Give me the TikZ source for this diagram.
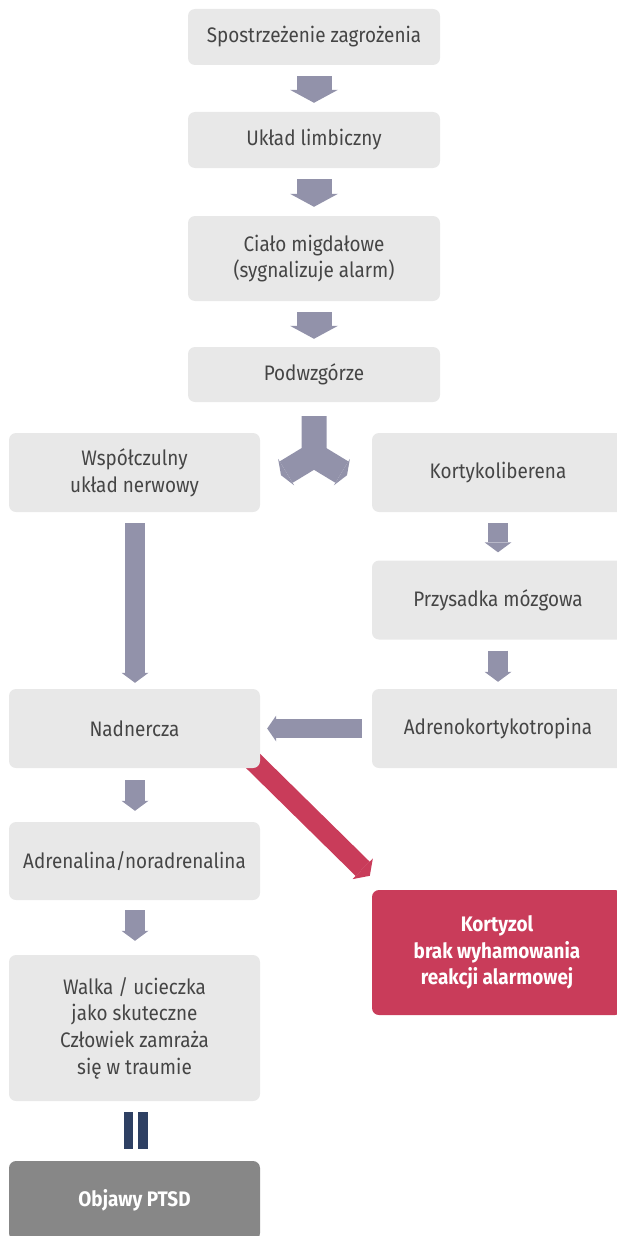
\documentclass[tikz,border=0pt]{standalone}
\usepackage{fontspec}
\setmainfont{Fira Sans}[FakeStretch=0.9]
\usetikzlibrary{arrows.meta,backgrounds,calc}
\definecolor{boxgray}{HTML}{E8E8E8}
\definecolor{txtgray}{HTML}{454545}
\definecolor{arrgray}{HTML}{9292AA}
\definecolor{alarmred}{HTML}{C93C5A}
\definecolor{ptsdgray}{HTML}{878787}
\definecolor{navy}{HTML}{2E4063}
\tikzset{
  box/.style={draw=none, fill=boxgray, rounded corners=7pt, text=txtgray,
    align=center, font=\fontsize{21}{26.7}\selectfont, inner sep=0pt},
  redbox/.style={box, fill=alarmred, text=white, font=\fontsize{21}{26.5}\selectfont\bfseries},
  greybox/.style={box, fill=ptsdgray, text=white, font=\fontsize{21}{26.5}\selectfont\bfseries},
  bigarr/.style={draw=arrgray, line width=35pt,
    -{Triangle[width=48pt,length=13pt,line width=0pt]}},
  midarr/.style={draw=arrgray, line width=20pt,
    -{Triangle[width=27pt,length=10pt,line width=0pt]}},
  splitarr/.style={draw=arrgray, line width=25pt, line join=miter,
    -{Triangle[width=31pt,length=6pt,line width=0pt]}},
  redarr/.style={draw=alarmred, line width=20pt,
    -{Triangle[width=29pt,length=10pt,line width=0pt]}},
  bar/.style={draw=navy, line width=9.5pt},
}
\begin{document}
\begin{tikzpicture}[x=1pt,y=-1pt]
\useasboundingbox (0,0) rectangle (617,1236);
\clip (0,0) rectangle (617,1236);
% central column
\node[box, minimum width=252pt, minimum height=56pt] (b1) at (314,37) {Spostrzeżenie zagrożenia};
\node[box, minimum width=252pt, minimum height=56pt] (b2) at (314,140) {Układ limbiczny};
\node[box, minimum width=252pt, minimum height=85pt] (b3) at (314,258.5) {Ciało migdałowe\\(sygnalizuje alarm)};
\node[box, minimum width=252pt, minimum height=55pt] (b4) at (314,374.5) {Podwzgórze};
% left column
\node[box, minimum width=251pt, minimum height=79pt] (wsp) at (134.5,472.5) {Współczulny\\układ nerwowy};
\node[box, minimum width=251pt, minimum height=79pt] (nad) at (134.5,728.5) {Nadnercza};
\node[box, minimum width=251pt, minimum height=78pt] (adrn) at (134.5,861) {Adrenalina/noradrenalina};
\node[box, minimum width=251pt, minimum height=146pt] (walka) at (134.5,1028) {Walka / ucieczka\\jako skuteczne\\Człowiek zamraża\\się w traumie};
\node[greybox, minimum width=251pt, minimum height=79pt] (ptsd) at (134.5,1200.5) {Objawy PTSD};
% right column
\node[box, minimum width=252pt, minimum height=79pt] (kort) at (498,472.5) {Kortykoliberena};
\node[box, minimum width=252pt, minimum height=79pt] (prz) at (498,600) {Przysadka mózgowa};
\node[box, minimum width=252pt, minimum height=79pt] (adr) at (498,728.5) {Adrenokortykotropina};
\node[redbox, minimum width=250pt, minimum height=125pt] (kz) at (497,952.5) {Kortyzol\\brak wyhamowania\\reakcji alarmowej};
% connectors
\begin{scope}[on background layer]
\draw[bigarr] ($(b1.south)+(0,11)$) -- ($(b2.north)+(0,-9)$);
\draw[bigarr] ($(b2.south)+(0,11)$) -- ($(b3.north)+(0,-9)$);
\draw[bigarr] ($(b3.south)+(0,11)$) -- ($(b4.north)+(0,-8)$);
\coordinate (split) at ($(b4.south)+(0,53)$);
\draw[splitarr] ($(b4.south)+(0,14)$) -- (split) -- ($(split)+(-33,20)$);
\draw[splitarr] (split) -- ($(split)+(33,20)$);
\draw[midarr] ($(wsp.south)+(0.5,11)$) -- ($(nad.north)+(0.5,-6)$);
\draw[midarr] ($(kort.south)+(0,11)$) -- ($(prz.north)+(0,-8)$);
\draw[midarr] ($(prz.south)+(0,11)$) -- ($(adr.north)+(0,-7)$);
\draw[draw=arrgray, line width=19pt, -{Triangle[width=26pt,length=9pt,line width=0pt]}]
  ($(adr.west)+(-10,0)$) -- ($(nad.east)+(7,0)$);
\draw[midarr] ($(nad.south)+(0.5,12)$) -- ($(adrn.north)+(0.5,-11)$);
\draw[midarr] ($(adrn.south)+(0.5,10)$) -- ($(walka.north)+(0.5,-14)$);
\draw[redarr] ($(nad.south east)+(-14,-14)$) -- ($(kz.north west)+(-2,-14)$);
\draw[bar] ($(walka.south)+(-6,11)$) -- ($(ptsd.north)+(-6,-12)$);
\draw[bar] ($(walka.south)+(8.5,11)$) -- ($(ptsd.north)+(8.5,-12)$);
\end{scope}
\end{tikzpicture}
\end{document}
